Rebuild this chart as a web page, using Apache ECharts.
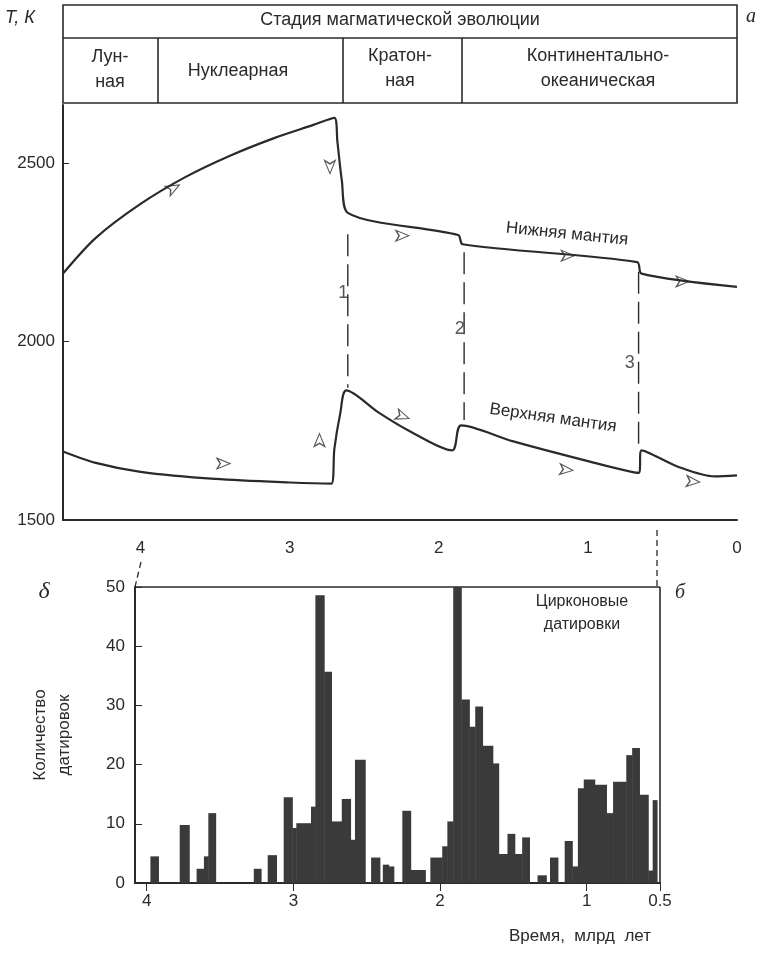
<!DOCTYPE html>
<html><head><meta charset="utf-8">
<script src="https://cdn.jsdelivr.net/npm/echarts@6/dist/echarts.min.js"></script>
<style>html,body{margin:0;background:#fff}#c{width:762px;height:953px}</style></head>
<body><div id="c"></div>
<script>
// Top panel: temperature curves (age Ga, T K)
const lowerMantle = [[4.52,2190],[4.3,2290],[4.0,2385],[3.7,2460],[3.4,2520],[3.1,2570],[2.85,2605],[2.70,2626],[2.68,2560],[2.65,2450],[2.61,2360],[1.87,2298],[1.84,2272],[0.67,2222],[0.64,2190],[0,2153]];
const upperMantle = [[4.52,1692],[4.3,1660],[4.0,1635],[3.5,1615],[3.0,1605],[2.72,1602],[2.70,1700],[2.66,1800],[2.62,1863],[2.4,1800],[2.2,1750],[1.91,1695],[1.85,1765],[1.5,1720],[1.0,1665],[0.66,1632],[0.64,1695],[0.4,1650],[0.15,1622],[0,1625]];
const transitions = [[[2.61,2300],[2.61,1870]],[[1.83,2250],[1.83,1780]],[[0.66,2195],[0.66,1705]]];
const transitionLabels = [['1',2.64,2135],['2',1.86,2035],['3',0.72,1940]];
const arrows = [[3.74,2438,-62],[2.73,2470,180],[2.2,2296,-90],[1.09,2240,-90],[0.32,2168,-90],[3.4,1658,-90],[2.8,1742,0],[2.2,1784,-110],[1.1,1639,-95],[0.25,1606,-95]];
const topTicks = [4,3,2,1,0];
// Bottom panel: zircon datings histogram [ageFrom, ageTo, count]
const zircon = [[3.975,3.92,4.5],[3.775,3.71,9.8],[3.66,3.61,2.4],[3.61,3.58,4.5],[3.58,3.53,11.8],[3.27,3.22,2.4],[3.175,3.115,4.7],[3.066,3.007,14.5],[3.007,2.98,9.3],[2.98,2.88,10.1],[2.88,2.85,12.9],[2.85,2.79,48.6],[2.79,2.74,35.7],[2.74,2.67,10.4],[2.67,2.61,14.2],[2.61,2.58,7.3],[2.58,2.51,20.8],[2.47,2.41,4.3],[2.39,2.35,3.1],[2.36,2.315,2.8],[2.257,2.20,12.2],[2.20,2.10,2.2],[2.066,1.985,4.3],[1.985,1.95,6.2],[1.95,1.91,10.4],[1.91,1.855,50],[1.855,1.80,31],[1.80,1.76,26.4],[1.76,1.71,29.8],[1.71,1.64,23.2],[1.64,1.60,20.2],[1.60,1.54,4.9],[1.54,1.49,8.3],[1.49,1.44,4.9],[1.44,1.39,7.7],[1.335,1.275,1.3],[1.25,1.196,4.3],[1.15,1.098,7.1],[1.098,1.06,2.8],[1.06,1.02,16],[1.02,0.945,17.5],[0.945,0.865,16.6],[0.865,0.82,11.8],[0.82,0.73,17.1],[0.73,0.69,21.6],[0.69,0.64,22.8],[0.64,0.58,14.9],[0.58,0.55,2.1],[0.55,0.52,14]];
const bottomTicks = [4,3,2,1,0.5];
const stages = ['Лун-\nная','Нуклеарная','Кратон-\nная','Континентально-\nокеаническая'];

const C='#2a2a2a', F='Liberation Sans, Arial, sans-serif';
const chart = echarts.init(document.getElementById('c'));
function txt(t,x,y,size,extra){return {type:'text',x:x,y:y,rotation:extra&&extra.rot||0,style:{text:t,fill:C,font:(extra&&extra.font)||(size+'px '+F),align:extra&&extra.align||'center',verticalAlign:'middle',lineHeight:size+7}};}
const line=(x1,y1,x2,y2)=>({type:'line',shape:{x1,y1,x2,y2},style:{stroke:C,lineWidth:1.6}});
chart.setOption({
  animation:false,
  grid:[{left:63,right:25,top:105,height:415},{left:135,right:102,top:587,height:296}],
  xAxis:[
    {gridIndex:0,type:'value',inverse:true,min:0,max:4.52,interval:1,axisLine:{onZero:false,lineStyle:{color:C,width:2}},axisTick:{show:false},splitLine:{show:false},
     axisLabel:{color:C,fontSize:17,fontFamily:F,margin:20,customValues:topTicks,formatter:v=>String(v)}},
    {gridIndex:1,type:'value',inverse:true,min:0.5,max:4.08,axisLine:{onZero:false,lineStyle:{color:C,width:2}},axisTick:{show:true,length:8,lineStyle:{color:C},customValues:bottomTicks},splitLine:{show:false},
     axisLabel:{color:C,fontSize:17,fontFamily:F,margin:10,customValues:bottomTicks,formatter:v=>String(v)}}
  ],
  yAxis:[
    {gridIndex:0,type:'value',position:'left',min:1500,max:2662,interval:500,axisLine:{show:true,onZero:false,lineStyle:{color:C,width:2}},axisTick:{show:true,inside:true,length:6,lineStyle:{color:C},customValues:[1500,2000,2500]},splitLine:{show:false},
     axisLabel:{color:C,fontSize:17,fontFamily:F,margin:8,customValues:[1500,2000,2500],formatter:v=>String(v)}},
    {gridIndex:1,type:'value',position:'left',min:0,max:50,interval:10,axisLine:{show:true,onZero:false,lineStyle:{color:C,width:2}},axisTick:{show:true,inside:true,length:7,lineStyle:{color:C}},splitLine:{show:false},
     axisLabel:{color:C,fontSize:17,fontFamily:F,margin:10}}
  ],
  series:[
    {type:'line',xAxisIndex:0,yAxisIndex:0,data:lowerMantle,showSymbol:false,smooth:0.3,lineStyle:{color:C,width:2.2}},
    {type:'line',xAxisIndex:0,yAxisIndex:0,data:upperMantle,showSymbol:false,smooth:0.3,lineStyle:{color:C,width:2.2}},
    ...transitions.map(d=>({type:'line',xAxisIndex:0,yAxisIndex:0,data:d,showSymbol:false,lineStyle:{color:C,width:1.4,type:[22,8]}})),
    {type:'scatter',xAxisIndex:0,yAxisIndex:0,data:transitionLabels.map(l=>[l[1],l[2],l[0]]),symbolSize:0,
     label:{show:true,formatter:p=>p.data[2],color:C,fontSize:18,fontFamily:F,backgroundColor:'#fff',padding:[3,2]}},
    {type:'scatter',xAxisIndex:0,yAxisIndex:0,data:arrows.map(a=>({value:[a[0],a[1]],symbolRotate:a[2]})),symbol:'arrow',symbolSize:[8,13],
     itemStyle:{color:'#fff',borderColor:C,borderWidth:1.2}},
    {type:'custom',xAxisIndex:1,yAxisIndex:1,data:zircon,renderItem:(p,api)=>{
      const a=api.coord([api.value(0),api.value(2)]), b=api.coord([api.value(1),0]);
      return {type:'rect',shape:{x:a[0],y:a[1],width:b[0]-a[0]+0.5,height:b[1]-a[1]},style:{fill:'#3a3a3a'}};
    }}
  ],
  graphic:[
    {type:'rect',shape:{x:63,y:5,width:674,height:98},style:{fill:'none',stroke:C,lineWidth:1.6}},
    line(63,38,737,38),line(158,38,158,103),line(343,38,343,103),line(462,38,462,103),
    line(135,587,660,587),line(660,587,660,883),
    {type:'line',shape:{x1:141,y1:562,x2:135,y2:587},style:{stroke:C,lineWidth:1.3,lineDash:[6,4]}},
    {type:'line',shape:{x1:657,y1:530,x2:657,y2:587},style:{stroke:C,lineWidth:1.3,lineDash:[6,4]}},
    txt('Стадия магматической эволюции',400,20,18),
    txt(stages[0],110,70,18),txt(stages[1],238,71,18),txt(stages[2],400,69,18),txt(stages[3],598,69,18),
    txt('T, К',20,18,18,{font:'italic 18px '+F}),
    txt('a',751,17,20,{font:'italic 20px serif'}),
    txt('δ',44,592,24,{font:'italic 24px serif'}),
    txt('б',680,593,20,{font:'italic 20px serif'}),
    txt('Нижняя мантия',567,234,17,{rot:-0.1}),
    txt('Верхняя мантия',553,418,17,{rot:-0.14}),
    txt('Цирконовые\nдатировки',582,613,16),
    txt('Количество\nдатировок',52,735,17,{rot:Math.PI/2}),
    txt('Время,  млрд  лет',580,936,17)
  ]
});
</script></body></html>
